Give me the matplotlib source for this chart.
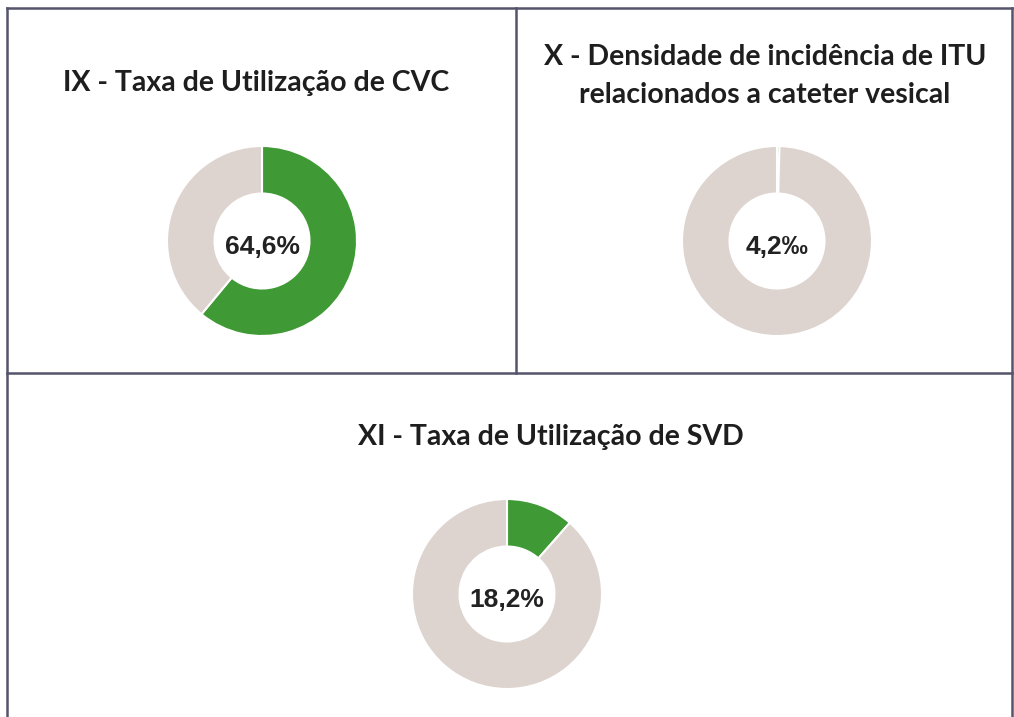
import matplotlib.pyplot as plt
from matplotlib.lines import Line2D

# panel titles
titles = ['IX - Taxa de Utilização de CVC',
          'X - Densidade de incidência de ITU\nrelacionados a cateter vesical',
          'XI - Taxa de Utilização de SVD']
# text shown in the hole of each donut
center_labels = ['64,6%', '4,2‰', '18,2%']
# green share of the ring as drawn
green_share = [61.0, 0.42, 11.5]

green = '#3f9a35'
grey = '#ddd3cf'
border = '#54546a'

H = 717
fig = plt.figure(figsize=(10.14, 7.17), dpi=100)
ax = fig.add_axes([0, 0, 1, 1])

# layout in pixel coords (y from the top): donut centre, radius, title position
centres = [(262, 241), (777, 241), (507, 594)]
radius = 95
title_pos = [(256, 83), (765, 76), (551, 437)]

for i in range(3):
    cx, cy = centres[i][0], H - centres[i][1]
    vals = [green_share[i], 100 - green_share[i]]
    ax.pie(vals, colors=[green, grey], startangle=90, counterclock=False,
           center=(cx, cy), radius=radius, frame=True,
           wedgeprops=dict(width=radius * 0.5, edgecolor='white', linewidth=1.5))
    ax.text(cx, cy - 6, center_labels[i], ha='center', va='center',
            fontsize=19, fontweight='bold', color='#222222',
            family=['Liberation Sans', 'DejaVu Sans'])
    ax.text(title_pos[i][0], H - title_pos[i][1], titles[i], ha='center', va='center',
            fontsize=20.5, fontweight='bold', color='#1e1e1e', family='Lato',
            linespacing=1.6)

ax.set_xlim(0, 1014)
ax.set_ylim(0, H)
ax.set_aspect('equal')
ax.axis('off')

# panel borders
segs = [((7, 1012), (8, 8)), ((7, 7), (8, 717)), ((1012, 1012), (8, 717)),
        ((516, 516), (8, 373)), ((7, 1012), (373, 373))]
for xs, ys in segs:
    ax.add_line(Line2D(xs, [H - y for y in ys], color=border, linewidth=1.8))

fig.savefig('out.png', dpi=100)
